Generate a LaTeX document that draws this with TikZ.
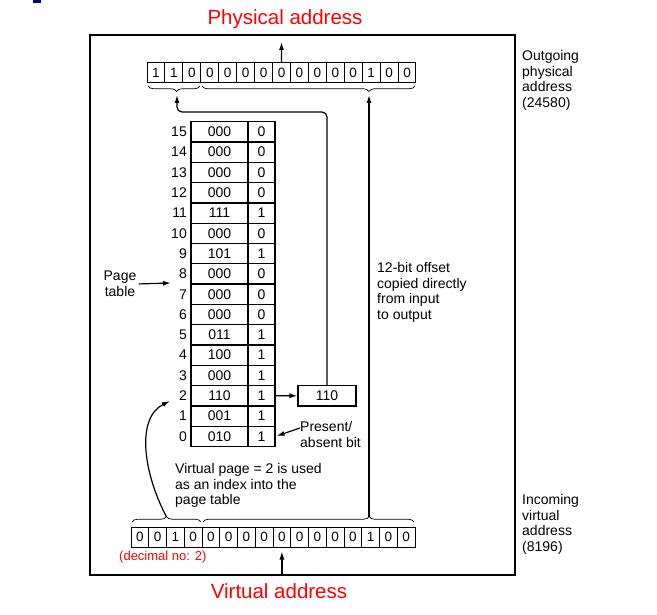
\documentclass[tikz,border=0pt]{standalone}
\usepackage{fontspec}
\setmainfont{Liberation Sans}
\usetikzlibrary{arrows.meta,decorations.pathreplacing}
\tikzset{
  cell/.style={draw,line width=1.3pt,minimum height=20.3pt,inner sep=0pt,font=\fontsize{14}{14}\selectfont},
  bitbox/.style={draw,line width=1pt,minimum height=20pt,inner sep=0pt,font=\fontsize{13.5}{13.5}\selectfont},
  lbl/.style={align=left,inner sep=0pt,font=\fontsize{14}{15.7}\selectfont},
  arr/.style={line width=1.2pt,-{Latex[length=8pt,width=5pt]}},
  brc/.style={decorate,decoration={brace,amplitude=5.5pt},line width=0.7pt},
  redtitle/.style={text=red,inner sep=0pt,font=\fontsize{20.5}{20.5}\selectfont}
}
\begin{document}
\begin{tikzpicture}[x=1pt,y=-1pt]
\useasboundingbox (0,0) rectangle (657,615);
\fill[blue!45!black] (33,0) rectangle (41,3);
\node[redtitle,anchor=base] (phys) at (285,25) {Physical address};
\node[redtitle,anchor=base] (virt) at (279,598) {Virtual address};
\draw[line width=1.6pt] (90,35) rectangle (515,575);
\foreach \bit [count=\k from 0] in {1,1,0,0,0,0,0,0,0,0,0,0,1,0,0}
  \node[bitbox,minimum width=17.93pt] (p\k) at ({156+17.93*\k},73) {\bit};
\foreach \bit [count=\k from 0] in {0,0,1,0,0,0,0,0,0,0,0,0,0,1,0,0}
  \node[bitbox,minimum width=17.75pt] (v\k) at ({139.9+17.75*\k},537) {\bit};
\draw[brc,decoration={mirror,aspect=0.55}] (148,86) -- (200,86);
\draw[brc,decoration={mirror,aspect=0.784}] (202,86) -- (415,86);
\draw[brc] (132,522) -- (201,522);
\draw[brc,decoration={aspect=0.787}] (203,522) -- (414,522);
\coordinate (pt1) at (177,95);
\coordinate (pt2) at (369,95);
\coordinate (vt1) at (166.5,517);
\coordinate (vt2) at (369,517);
\foreach \idx/\frm/\bit in {15/000/0,14/000/0,13/000/0,12/000/0,11/111/1,10/000/0,9/101/1,8/000/0,7/000/0,6/000/0,5/011/1,4/100/1,3/000/1,2/110/1,1/001/1,0/010/1} {
  \node[cell,minimum width=57pt] (f\idx) at (219.5,{131.85+(15-\idx)*20.3}) {\frm};
  \node[cell,minimum width=27pt] (b\idx) at (261.5,{131.85+(15-\idx)*20.3}) {\bit};
  \node[anchor=east,inner sep=0pt,font=\fontsize{14}{14}\selectfont] (n\idx) at (187,{131.85+(15-\idx)*20.3}) {\idx};
}
\node[cell,minimum width=58pt] (pf) at (327,395.75) {110};
\draw[arr] (b2.east) -- (pf.west);
\draw[arr,rounded corners=5pt] (pf.north) |- (177,112) -- (pt1);
\draw[arr] (vt2) -- (pt2);
\coordinate (ix) at (170,401);
\draw[arr] (vt1) .. controls (143,472) and (136,418) .. (ix);
\coordinate (po) at (281.5,42);
\draw[arr] (p7.north) -- (po);
\coordinate (vi) at (281.9,574);
\draw[arr,shorten >=4pt] (vi) -- (v8.south);
\node[lbl,align=center] (ptab) at (120,284) {Page\\table};
\coordinate (pa) at (171,283);
\draw[arr,shorten <=2pt] (ptab.east) -- (pa);
\node[lbl,anchor=north west] (pab) at (300,421) {Present/\\absent bit};
\draw[arr,shorten >=1pt] ([yshift=-7pt]pab.north west) -- (b0.east);
\node[lbl,anchor=north west] (out) at (522,50) {Outgoing\\physical\\address\\(24580)};
\node[lbl,anchor=north west] (inc) at (522,494) {Incoming\\virtual\\address\\(8196)};
\node[lbl,anchor=north west] (off) at (377,262) {12-bit offset\\copied directly\\from input\\to output};
\node[lbl,anchor=north west] (vpg) at (175,463) {Virtual page = 2 is used\\as an index into the\\page table};
\node[text=red,anchor=base west,inner sep=0pt,font=\fontsize{13}{13}\selectfont] (dec) at (119,560) {(decimal no: 2)};
\end{tikzpicture}
\end{document}
